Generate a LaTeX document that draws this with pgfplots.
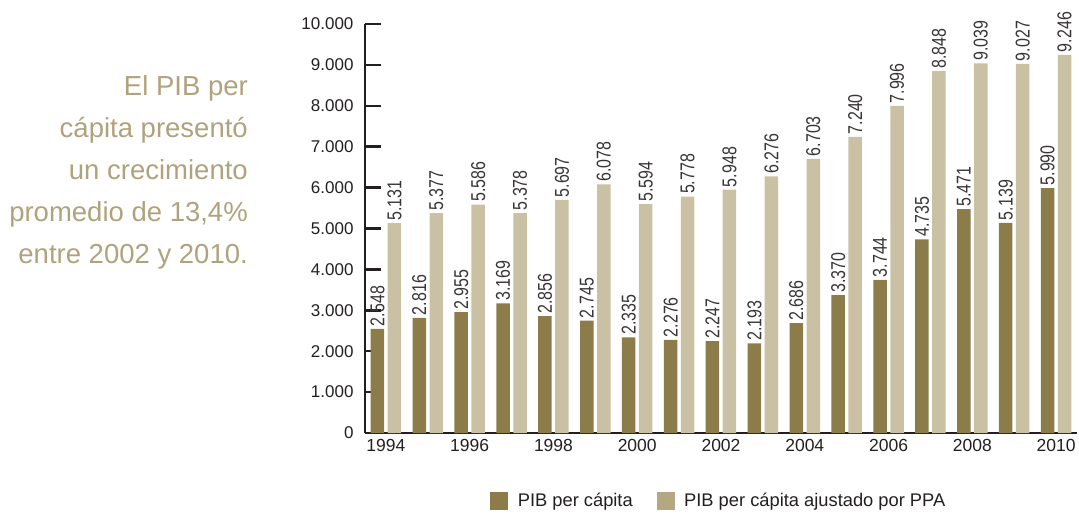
\documentclass[border=0pt]{standalone}
\usepackage{fontspec}
\setmainfont{Liberation Sans}
\newfontfamily\narrowfont[FakeStretch=0.8]{Liberation Sans}
\usepackage{pgfplots}
\usepackage{pgfplotstable}
\pgfplotsset{compat=1.18}
\definecolor{darkc}{RGB}{139,124,74}
\definecolor{lightc}{RGB}{202,193,164}
\definecolor{legl}{RGB}{180,168,128}
\definecolor{txtc}{RGB}{176,162,124}
\definecolor{axc}{RGB}{35,31,32}
\pgfplotstableread{
x pib ppa
0 2548 5131
1 2816 5377
2 2955 5586
3 3169 5378
4 2856 5697
5 2745 6078
6 2335 5594
7 2276 5778
8 2247 5948
9 2193 6276
10 2686 6703
11 3370 7240
12 3744 7996
13 4735 8848
14 5471 9039
15 5139 9027
16 5990 9246
}\datatab
\begin{document}
\begin{tikzpicture}
\begin{axis}[
  width=712pt, height=409pt, scale only axis,
  xmin=-0.5, xmax=16.5, ymin=0, ymax=10000,
  clip=false,
  ybar, bar width=13.5pt,
  axis x line=bottom, axis y line=left,
  axis line style={-, line width=2.5pt, color=axc},
  xtick align=inside, ytick align=inside,
  scaled y ticks=false,
  ytick={0,1000,...,10000},
  major tick length=16pt,
  minor tick length=10pt,
  tick style={line width=2.5pt, color=axc},
  xtick=\empty,
  minor xtick={0.5,1.5,...,16.5},
  extra x ticks={0,2,...,16},
  extra x tick labels={1994,1996,1998,2000,2002,2004,2006,2008,2010},
  extra x tick style={major tick length=0pt},
  /pgf/number format/.cd, 1000 sep={.}, assume math mode=true, /pgfplots/.cd,
  yticklabel style={font=\fontsize{17}{20}\selectfont, text=axc, xshift=-8pt},
  xticklabel style={font=\fontsize{17.5}{20}\selectfont, text=axc, yshift=-3pt},
  nodes near coords,
  nodes near coords style={rotate=90, anchor=west, inner sep=2.5pt,
     font=\narrowfont\fontsize{20}{22}\selectfont, text=axc!90},
  legend style={at={(0.497,-0.166)}, anchor=center, draw=none, fill=none,
     legend columns=2, font=\fontsize{18.3}{20}\selectfont, text=axc,
     /tikz/every even column/.append style={column sep=22pt}},
]
\addplot[fill=darkc, draw=none, bar shift=-8.5pt, forget plot] table[x=x, y=pib] {\datatab};
\addplot[fill=lightc, draw=none, bar shift=8.5pt, forget plot] table[x=x, y=ppa] {\datatab};
\addlegendimage{legend image code/.code={\fill[darkc] (0pt,-8.5pt) rectangle (17pt,8.5pt); \path (25pt,0pt);}}
\addlegendentry{PIB per cápita}
\addlegendimage{legend image code/.code={\fill[legl] (0pt,-8.5pt) rectangle (17pt,8.5pt); \path (25pt,0pt);}}
\addlegendentry{PIB per cápita ajustado por PPA}
\coordinate (O) at (rel axis cs:0,0);
\node[anchor=north east, align=right, inner sep=0pt, text=txtc,
  font=\fontsize{27.5}{42}\selectfont] at ([xshift=-117pt, yshift=-51pt]rel axis cs:0,1)
  {El PIB per\\cápita presentó\\un crecimiento\\promedio de 13,4\%\\entre 2002 y 2010.};
\end{axis}
\pgfresetboundingbox
\path ([shift={(-365pt,-81pt)}]O) rectangle ([shift={(714pt,433pt)}]O);
\end{tikzpicture}
\end{document}
